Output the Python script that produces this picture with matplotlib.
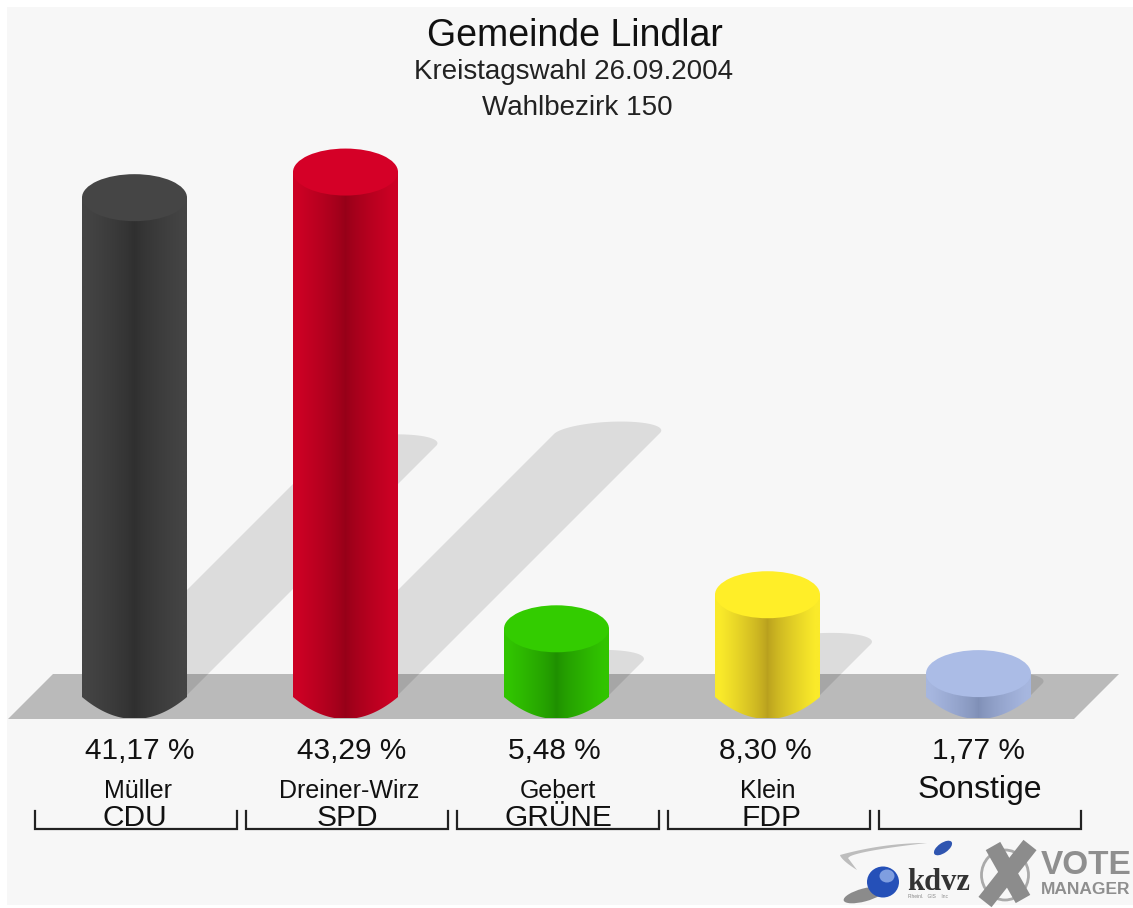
import numpy as np
import matplotlib
matplotlib.use("Agg")
import matplotlib.pyplot as plt
from matplotlib.patches import Ellipse, Polygon, PathPatch, Rectangle
from matplotlib.path import Path

plt.rcParams['font.family'] = ['Liberation Sans', 'DejaVu Sans']

# chart data
candidates = ["Müller", "Dreiner-Wirz", "Gebert", "Klein", ""]
parties = ["CDU", "SPD", "GRÜNE", "FDP", "Sonstige"]
values = [41.17, 43.29, 5.48, 8.30, 1.77]
value_labels = ["41,17 %", "43,29 %", "5,48 %", "8,30 %", "1,77 %"]
cap_colors = ["#454545", "#d50027", "#33cc00", "#ffee28", "#abbce6"]
edge_colors = ["#444444", "#cc0024", "#31c400", "#faea2a", "#a6b6df"]
dark_colors = ["#2f2f2f", "#950018", "#1f8f00", "#b89f1e", "#7f8fb6"]

W, H = 1133, 908
FIRST_X, STEP_X = 134.5, 211.0   # bar slots
BASE_Y = 695.0                   # y of the base ellipse centre
PX_PER_PCT = 12.08
RX, RY = 52.5, 23.5

# text centres, the labels are not quite centred on the bars
value_x = [140, 352, 554, 765, 978]
name_x = [138, 349, 558, 768, 980]
party_x = [135, 347, 558, 771, 980]


# side of a cylinder: rectangle with a chamfered rounded bottom
def side_path(cx, top):
    u = np.linspace(-1, 1, 81)
    xs = cx + RX * u
    ys = BASE_Y + 2 + 22 * (1 - np.abs(u) ** 2.0)
    verts = [(cx - RX, top)] + list(zip(xs, ys)) + [(cx + RX, top), (cx - RX, top)]
    return Path(verts)


def draw_shadow(ax, cx, h):
    d = h * 0.5
    t = np.linspace(np.pi, 0, 40)
    cap = [(cx + d + RX * np.cos(a) + 14 * np.sin(a), BASE_Y - d - 12 * np.sin(a)) for a in t]
    verts = [(cx - RX, BASE_Y)] + cap + [(cx + RX, BASE_Y)]
    ax.add_patch(Polygon(verts, closed=True, fc="black", ec="none", alpha=0.105, zorder=3))


def draw_bar(ax, cx, h, col, edge, dark):
    top = BASE_Y - h
    c_edge = np.array(matplotlib.colors.to_rgb(edge))
    c_dark = np.array(matplotlib.colors.to_rgb(dark))
    u = np.abs(np.linspace(-1, 1, 256))
    k = np.clip(u / 0.9, 0, 1) ** 0.75
    img = (c_dark + (c_edge - c_dark) * k[:, None])[None, :, :]
    im = ax.imshow(img, extent=(cx - RX, cx + RX, BASE_Y + RY, top), aspect="auto",
                   interpolation="bilinear", zorder=4)
    patch = PathPatch(side_path(cx, top), transform=ax.transData, fc="none", ec="none")
    ax.add_patch(patch)
    im.set_clip_path(patch)
    ax.add_patch(Ellipse((cx, top), 2 * RX, 2 * RY, fc=col, ec="none", zorder=5))


def draw_logo(ax):
    # grey swoosh
    t = np.linspace(0, 1, 40)
    outer = [(927 - 87 * a, 843 + 12 * a ** 2) for a in t]
    back = [(840 + 17 * a, 855 + 15 * a ** 0.7) for a in t]
    inner = [(848 + 79 * a, 858 - 15 * a ** 0.6) for a in t]
    ax.add_patch(Polygon(outer + back + inner, closed=True, fc="#bdbdbd", ec="none", zorder=6))
    # small blue ball
    ax.add_patch(Ellipse((943, 848), 21, 10, angle=-35, fc="#2f55b0", ec="none", zorder=7))
    # big ball + shadow
    ax.add_patch(Ellipse((864, 895), 42, 13, angle=-15, fc="#444444", ec="none", alpha=0.6, zorder=6))
    ax.add_patch(Ellipse((883, 882), 32, 31, fc="#2550b8", ec="none", zorder=7))
    ax.add_patch(Ellipse((887, 876), 15, 13, fc="#7f9ee0", ec="none", zorder=8))
    ax.text(907, 882, "kdvz", fontsize=22, fontweight="bold", color="#333333", family="Liberation Serif",
            ha="left", va="center", zorder=8)
    ax.text(908, 897, "Rheinl.   GIS    Inc", fontsize=3.5, color="#888888", ha="left", va="center", zorder=8)
    # X mark
    ax.add_patch(Ellipse((1005, 875), 47, 50, fc="none", ec="#aaaaaa", lw=2, zorder=7))
    ax.plot([993, 1023], [846, 899], color="#8c8c8c", lw=12, solid_capstyle="butt", zorder=8)
    ax.plot([1030, 985], [845, 902], color="#8c8c8c", lw=12, solid_capstyle="butt", zorder=8)
    ax.text(1041, 865, "VOTE", fontsize=24, fontweight="bold", color="#8f8f8f", ha="left", va="center", zorder=8)
    ax.text(1041, 889, "MANAGER", fontsize=12.5, fontweight="bold", color="#8f8f8f", ha="left", va="center", zorder=8)


fig = plt.figure(figsize=(W / 100, H / 100), dpi=100, facecolor="white")
ax = fig.add_axes([0, 0, 1, 1])
ax.axis("off")

ax.add_patch(Rectangle((7, 7), W - 7, H - 10, fc="#f7f7f7", ec="none", zorder=0))
# floor band
ax.add_patch(Polygon([(8, 719), (53, 674), (1119, 674), (1074, 719)], closed=True,
                     fc="#bababa", ec="none", zorder=1))

xs = [FIRST_X + STEP_X * i for i in range(len(values))]
heights = [v * PX_PER_PCT for v in values]

for x, h in zip(xs, heights):
    draw_shadow(ax, x, h)
for x, h, c, e, d in zip(xs, heights, cap_colors, edge_colors, dark_colors):
    draw_bar(ax, x, h, c, e, d)

# titles
ax.text(575, 36, "Gemeinde Lindlar", fontsize=27, color="#111111", ha="center", va="center")
ax.text(574, 72, "Kreistagswahl 26.09.2004", fontsize=20, color="#222222", ha="center", va="center")
ax.text(577, 108, "Wahlbezirk 150", fontsize=20, color="#222222", ha="center", va="center")

# labels below the bars
for i in range(len(values)):
    ax.text(value_x[i], 751, value_labels[i], fontsize=21.5, color="#111111", ha="center", va="center")
    if candidates[i]:
        ax.text(name_x[i], 791, candidates[i], fontsize=18, color="#111111", ha="center", va="center")
        ax.text(party_x[i], 818, parties[i], fontsize=21.5, color="#111111", ha="center", va="center")
    else:
        ax.text(party_x[i], 790, parties[i], fontsize=23, color="#111111", ha="center", va="center")
    left = 35 + STEP_X * i
    ax.plot([left, left, left + 202, left + 202], [811, 829, 829, 811], color="#222222", lw=1.6,
            solid_joinstyle="miter", zorder=3)

draw_logo(ax)

ax.set_xlim(0, W)
ax.set_ylim(H, 0)
fig.savefig("out.png", dpi=100, facecolor="white")
